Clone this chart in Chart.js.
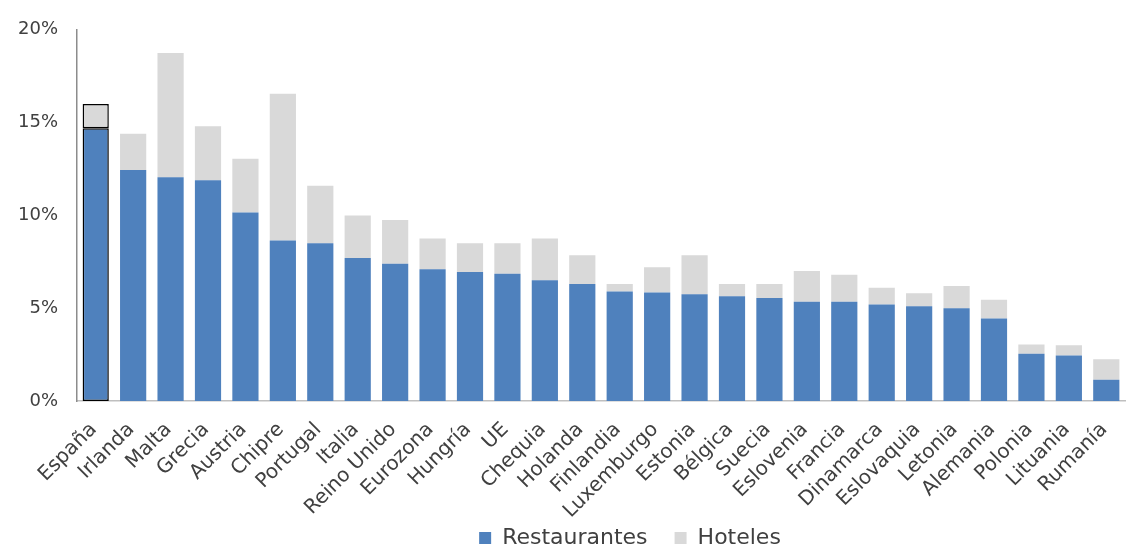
<!DOCTYPE html>
<html>
<head>
<meta charset="utf-8">
<script src="https://cdn.jsdelivr.net/npm/chart.js@4/dist/chart.umd.min.js"></script>
<style>
  html, body { margin: 0; padding: 0; background: #ffffff; }
  #wrap { width: 1126px; height: 550px; position: relative; }
</style>
</head>
<body>
<div id="wrap"><canvas id="c" width="1126" height="550"></canvas></div>
<script>
const categories = ["España","Irlanda","Malta","Grecia","Austria","Chipre","Portugal","Italia","Reino Unido","Eurozona","Hungría","UE","Chequia","Holanda","Finlandia","Luxemburgo","Estonia","Bélgica","Suecia","Eslovenia","Francia","Dinamarca","Eslovaquia","Letonia","Alemania","Polonia","Lituania","Rumanía"];
const restaurantes = [14.7,12.45,12.05,11.9,10.15,8.65,8.5,7.7,7.4,7.1,6.95,6.85,6.5,6.3,5.9,5.85,5.75,5.65,5.55,5.35,5.35,5.2,5.1,5.0,4.45,2.55,2.45,1.15];
const hoteles = [1.3,1.95,6.7,2.9,2.9,7.9,3.1,2.3,2.35,1.65,1.55,1.65,2.25,1.55,0.4,1.35,2.1,0.65,0.75,1.65,1.45,0.9,0.7,1.2,1.0,0.5,0.55,1.1];
const yTicks = [0,5,10,15,20];
const seriesNames = ["Restaurantes","Hoteles"];
const highlight = "España";

const FONT = "'DejaVu Sans', sans-serif";
const TEXT = "#404040";

const borderColors = categories.map(c => c === highlight ? "#000000" : "rgba(0,0,0,0)");
const borderWidths = categories.map(c => c === highlight ? 1.5 : 0);

const layoutTweak = {
  id: 'layoutTweak',
  afterLayout(chart) {
    const lg = chart.legend;
    if (lg) {
      const dx = 630 - (lg.left + lg.right) / 2;
      const dy = 9;
      lg.left += dx; lg.right += dx;
      lg.top += dy; lg.bottom += dy;
    }
    // let rotated category labels extend below the axis box without being clipped
    chart.scales.x.bottom = chart.height;
  }
};

new Chart(document.getElementById('c'), {
  type: 'bar',
  data: {
    labels: categories,
    datasets: [
      {
        label: seriesNames[0],
        data: restaurantes,
        backgroundColor: "#4F81BD",
        borderColor: borderColors,
        borderWidth: borderWidths,
        borderSkipped: false,
        categoryPercentage: 0.7,
        barPercentage: 1.0
      },
      {
        label: seriesNames[1],
        data: hoteles,
        backgroundColor: "#D9D9D9",
        borderColor: borderColors,
        borderWidth: borderWidths,
        borderSkipped: false,
        categoryPercentage: 0.7,
        barPercentage: 1.0
      }
    ]
  },
  options: {
    responsive: false,
    animation: false,
    layout: { padding: { top: 23, right: 1, left: 0, bottom: 0 } },
    plugins: {
      tooltip: { enabled: false },
      legend: {
        position: 'bottom',
        labels: {
          boxWidth: 12,
          boxHeight: 12,
          padding: 27,
          color: TEXT,
          font: { family: FONT, size: 22 },
          generateLabels(chart) {
            return chart.data.datasets.map((ds, i) => ({
              text: ds.label,
              fillStyle: ds.backgroundColor,
              strokeStyle: ds.backgroundColor,
              lineWidth: 0,
              hidden: false,
              datasetIndex: i,
              fontColor: TEXT
            }));
          }
        }
      }
    },
    scales: {
      x: {
        stacked: true,
        grid: { display: false, drawTicks: false },
        border: { display: true, color: "#BFBFBF", width: 1.5 },
        ticks: {
          color: TEXT,
          font: { family: FONT, size: 20 },
          minRotation: 45,
          maxRotation: 45,
          autoSkip: false,
          padding: 17,
          labelOffset: -2
        },
        afterFit(scale) {
          scale.height = 90;
          scale.paddingLeft = 0;
          scale.paddingRight = 0;
        }
      },
      y: {
        stacked: true,
        min: 0,
        max: 20,
        grid: { display: false, drawTicks: false },
        border: { display: true, color: "#8C8C8C", width: 1.5 },
        afterBuildTicks(scale) { scale.ticks = yTicks.map(v => ({ value: v })); },
        ticks: {
          color: TEXT,
          font: { family: FONT, size: 18 },
          padding: 19,
          callback: v => v + "%"
        },
        afterFit(scale) { scale.width = 77; }
      }
    }
  },
  plugins: [layoutTweak]
});
</script>
</body>
</html>
